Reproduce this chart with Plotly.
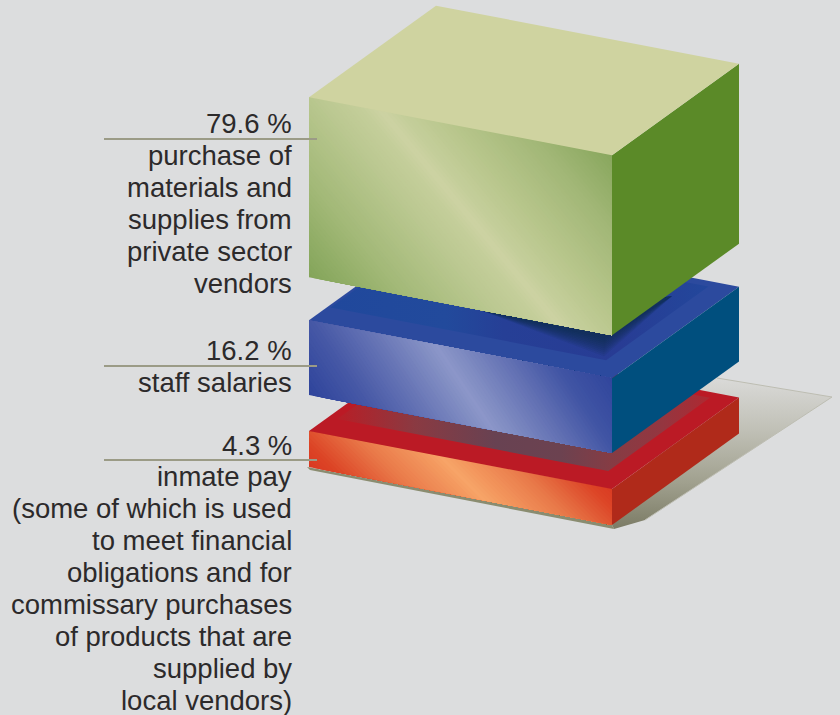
import numpy as np
import plotly.graph_objects as go

# Shares of spending, top block first
categories = ["materials", "salaries", "inmate pay"]
shares = [79.6, 16.2, 4.3]
descriptions = [
    ["purchase of", "materials and", "supplies from", "private sector", "vendors"],
    ["staff salaries"],
    ["inmate pay", "(some of which is used", "to meet financial", "obligations and for",
     "commissary purchases", "of products that are", "supplied by", "local vendors)"],
]

BG = "#dcddde"
INK = "#2c2a2b"
RULE = "#9b9b86"

# Block height in drawing units grows with share on a compressed power scale
def block_height(share):
    return 16.1 * share ** 0.5516

# Oblique projection of the tower footprint onto the page
ORIGIN = np.array([309.0, 467.0])
WIDTH = np.array([303.0, 58.0])
DEPTH = np.array([127.0, -91.5])
GAPS = {"salaries": 36.0, "materials": 43.0}

def project(u, v, z):
    p = ORIGIN + u * WIDTH + v * DEPTH
    return (float(p[0]), float(p[1] - z))

def hex_rgb(c):
    return np.array([int(c[i:i + 2], 16) for i in (1, 3, 5)], float)

def mix(stops, d):
    pos = [s[0] for s in stops]
    rgb = np.array([hex_rgb(s[1]) for s in stops])
    vals = [np.interp(d, pos, rgb[:, k]) for k in range(3)]
    return "rgb(%d,%d,%d)" % tuple(round(v) for v in vals)

def clip_above(poly, point, normal, level):
    # Keep the part of a convex polygon where the signed distance is >= level
    dist = lambda q: (q[0] - point[0]) * normal[0] + (q[1] - point[1]) * normal[1] - level
    out = []
    for a, b in zip(poly, poly[1:] + poly[:1]):
        da, db = dist(a), dist(b)
        if da >= 0:
            out.append(a)
        if da * db < 0:
            t = da / (da - db)
            out.append((a[0] + t * (b[0] - a[0]), a[1] + t * (b[1] - a[1])))
    return out

fig = go.Figure()

def polygon(pts, color=None, gradient=None, width=0, line=None):
    xs = [p[0] for p in pts] + [pts[0][0]]
    ys = [p[1] for p in pts] + [pts[0][1]]
    kw = dict(x=xs, y=ys, mode="lines", fill="toself", hoverinfo="skip", showlegend=False,
              line=dict(width=width, color=line or "rgba(0,0,0,0)"))
    if gradient:
        kw["fillgradient"] = gradient
        kw["fillcolor"] = None
    else:
        kw["fillcolor"] = color
    fig.add_trace(go.Scatter(**kw))

def sheen(pts, point, direction, stops, step=3.0):
    # Diagonal sheen: each layer covers everything beyond its own level, so no seams show
    n = np.array([direction[1], -direction[0]], float)
    n /= np.hypot(*n)
    ds = [(p[0] - point[0]) * n[0] + (p[1] - point[1]) * n[1] for p in pts]
    polygon(pts, mix(stops, min(ds)))
    for level in np.arange(min(ds) + step, max(ds), step):
        piece = clip_above(pts, point, n, level)
        if len(piece) >= 3:
            polygon(piece, mix(stops, level + step / 2))

def inner_top(u0, u1, v0, v1, z):
    return [project(u0, v0, z), project(u1, v0, z), project(u1, v1, z), project(u0, v1, z)]

h_green, h_blue, h_red = [block_height(s) for s in shares]
z_red = 0.0
z_blue = z_red + h_red + GAPS["salaries"]
z_green = z_blue + h_blue + GAPS["materials"]

# Cast shadow on the floor
far = project(1, 1, 0)
front = project(1, 0, 0)
shadow = [(717, 378), (832, 397), (645, 520), (front[0] + 2, front[1] + 4), front, (700, 378)]
polygon(shadow, gradient=dict(type="vertical", start=378, stop=528,
                              colorscale=[[0, "#dadad8"], [0.35, "#c0c0b6"], [0.7, "#a0a08e"], [1, "#7c7c66"]]))
fig.add_trace(go.Scatter(x=[717, 832, 645], y=[378, 397, 520], mode="lines", hoverinfo="skip", showlegend=False,
                         line=dict(color="#bdbdb2", width=1)))
# Thin floor edge under the red block
left_foot = project(0, 0, 0)
polygon([(left_foot[0] - 2, left_foot[1]), front, (front[0] + 2, front[1] + 4), (left_foot[0] + 1, left_foot[1] + 3)], "#8a8c70")

# Red block
polygon([project(1, 0, z_red), project(1, 1, z_red), project(1, 1, z_red + h_red), project(1, 0, z_red + h_red)], "#b02a1a")
sheen([project(0, 0, z_red), project(1, 0, z_red), project(1, 0, z_red + h_red), project(0, 0, z_red + h_red)],
      (455, 470), (1, 1),
      [(-120, "#d62c1c"), (-85, "#dc4426"), (-45, "#e97a4a"), (-10, "#f49a60"), (0, "#f7a568"),
       (10, "#f49a60"), (45, "#e97a4a"), (85, "#dc4426"), (120, "#d62c1c")])
polygon(inner_top(0, 1, 0, 1, z_red + h_red), "#bb1a25")
polygon(inner_top(0.03, 0.925, 0.15, 0.95, z_red + h_red),
        gradient=dict(type="horizontal", start=343, stop=706,
                      colorscale=[[0, "#b52028"], [0.2, "#8a3a42"], [0.42, "#684252"], [0.6, "#6c4250"],
                                  [0.74, "#863c44"], [0.88, "#943640"], [1, "#ad2a32"]]))

# Blue block
polygon(inner_top(0, 1, 0, 1, z_blue + h_blue), "#2c4a9e")
polygon(inner_top(0.01, 0.92, 0.145, 0.95, z_blue + h_blue),
        gradient=dict(type="horizontal", start=330, stop=716,
                      colorscale=[[0, "#20489c"], [0.3, "#224a9c"], [0.45, "#263f96"], [0.75, "#283c94"], [1, "#22489c"]]))
# Soft shadow thrown by the green block onto the blue top
g_left = (480, 310)
g_corner = project(1, 0, z_green)
g_right = (672, 296)
for s in np.arange(21, 1, -2.0):
    polygon([g_left, (g_corner[0] - 8, g_corner[1] + s), g_right, (g_corner[0], g_corner[1] - 30)], "rgba(14,44,66,0.095)")
polygon([project(1, 0, z_blue), project(1, 1, z_blue), project(1, 1, z_blue + h_blue), project(1, 0, z_blue + h_blue)], "#004f7e")
sheen([project(0, 0, z_blue), project(1, 0, z_blue), project(1, 0, z_blue + h_blue), project(0, 0, z_blue + h_blue)],
      (441, 353), (45, 67),
      [(-130, "#30459c"), (-90, "#4658a6"), (-50, "#6472b4"), (-10, "#8490c4"), (0, "#8c96c9"),
       (10, "#8490c4"), (50, "#6472b4"), (90, "#4054a4"), (130, "#30459c")])

# Green block
polygon([project(1, 0, z_green), project(1, 1, z_green), project(1, 1, z_green + h_green), project(1, 0, z_green + h_green)], "#5b8a28")
sheen([project(0, 0, z_green), project(1, 0, z_green), project(1, 0, z_green + h_green), project(0, 0, z_green + h_green)],
      (385, 115), (170, 205),
      [(-165, "#82a358"), (-100, "#a3b978"), (-45, "#b9c78f"), (-14, "#c4ce9a"), (0, "#cdd3a3"),
       (14, "#c4ce9a"), (45, "#b8c68c"), (100, "#a2b777"), (155, "#85a55a")])
polygon(inner_top(0, 1, 0, 1, z_green + h_green), "#cfd3a0")

# Leader rules
for y in (139, 366, 460):
    fig.add_trace(go.Scatter(x=[104, 317], y=[y, y], mode="lines", hoverinfo="skip", showlegend=False,
                             line=dict(color=RULE, width=2)))

# Right-aligned labels, each line placed on a fixed leading
LEADING = 31.95
first_lines = [123.5, 350.5, 445]
for share, lines, start in zip(shares, descriptions, first_lines):
    for i, text in enumerate([f"{share} %"] + lines):
        fig.add_annotation(x=292, y=start + i * LEADING, xref="x", yref="y", xanchor="right", yanchor="middle",
                           align="right", showarrow=False, borderpad=0, borderwidth=0, text=text,
                           font=dict(family="Liberation Sans", size=27.5, color=INK))

fig.update_xaxes(range=[0, 840], visible=False, fixedrange=True)
fig.update_yaxes(range=[715, 0], visible=False, fixedrange=True)
fig.update_layout(width=840, height=715, margin=dict(l=0, r=0, t=0, b=0), autosize=False,
                  paper_bgcolor=BG, plot_bgcolor=BG, showlegend=False)
fig.write_html("out.html", config={"displayModeBar": False})
